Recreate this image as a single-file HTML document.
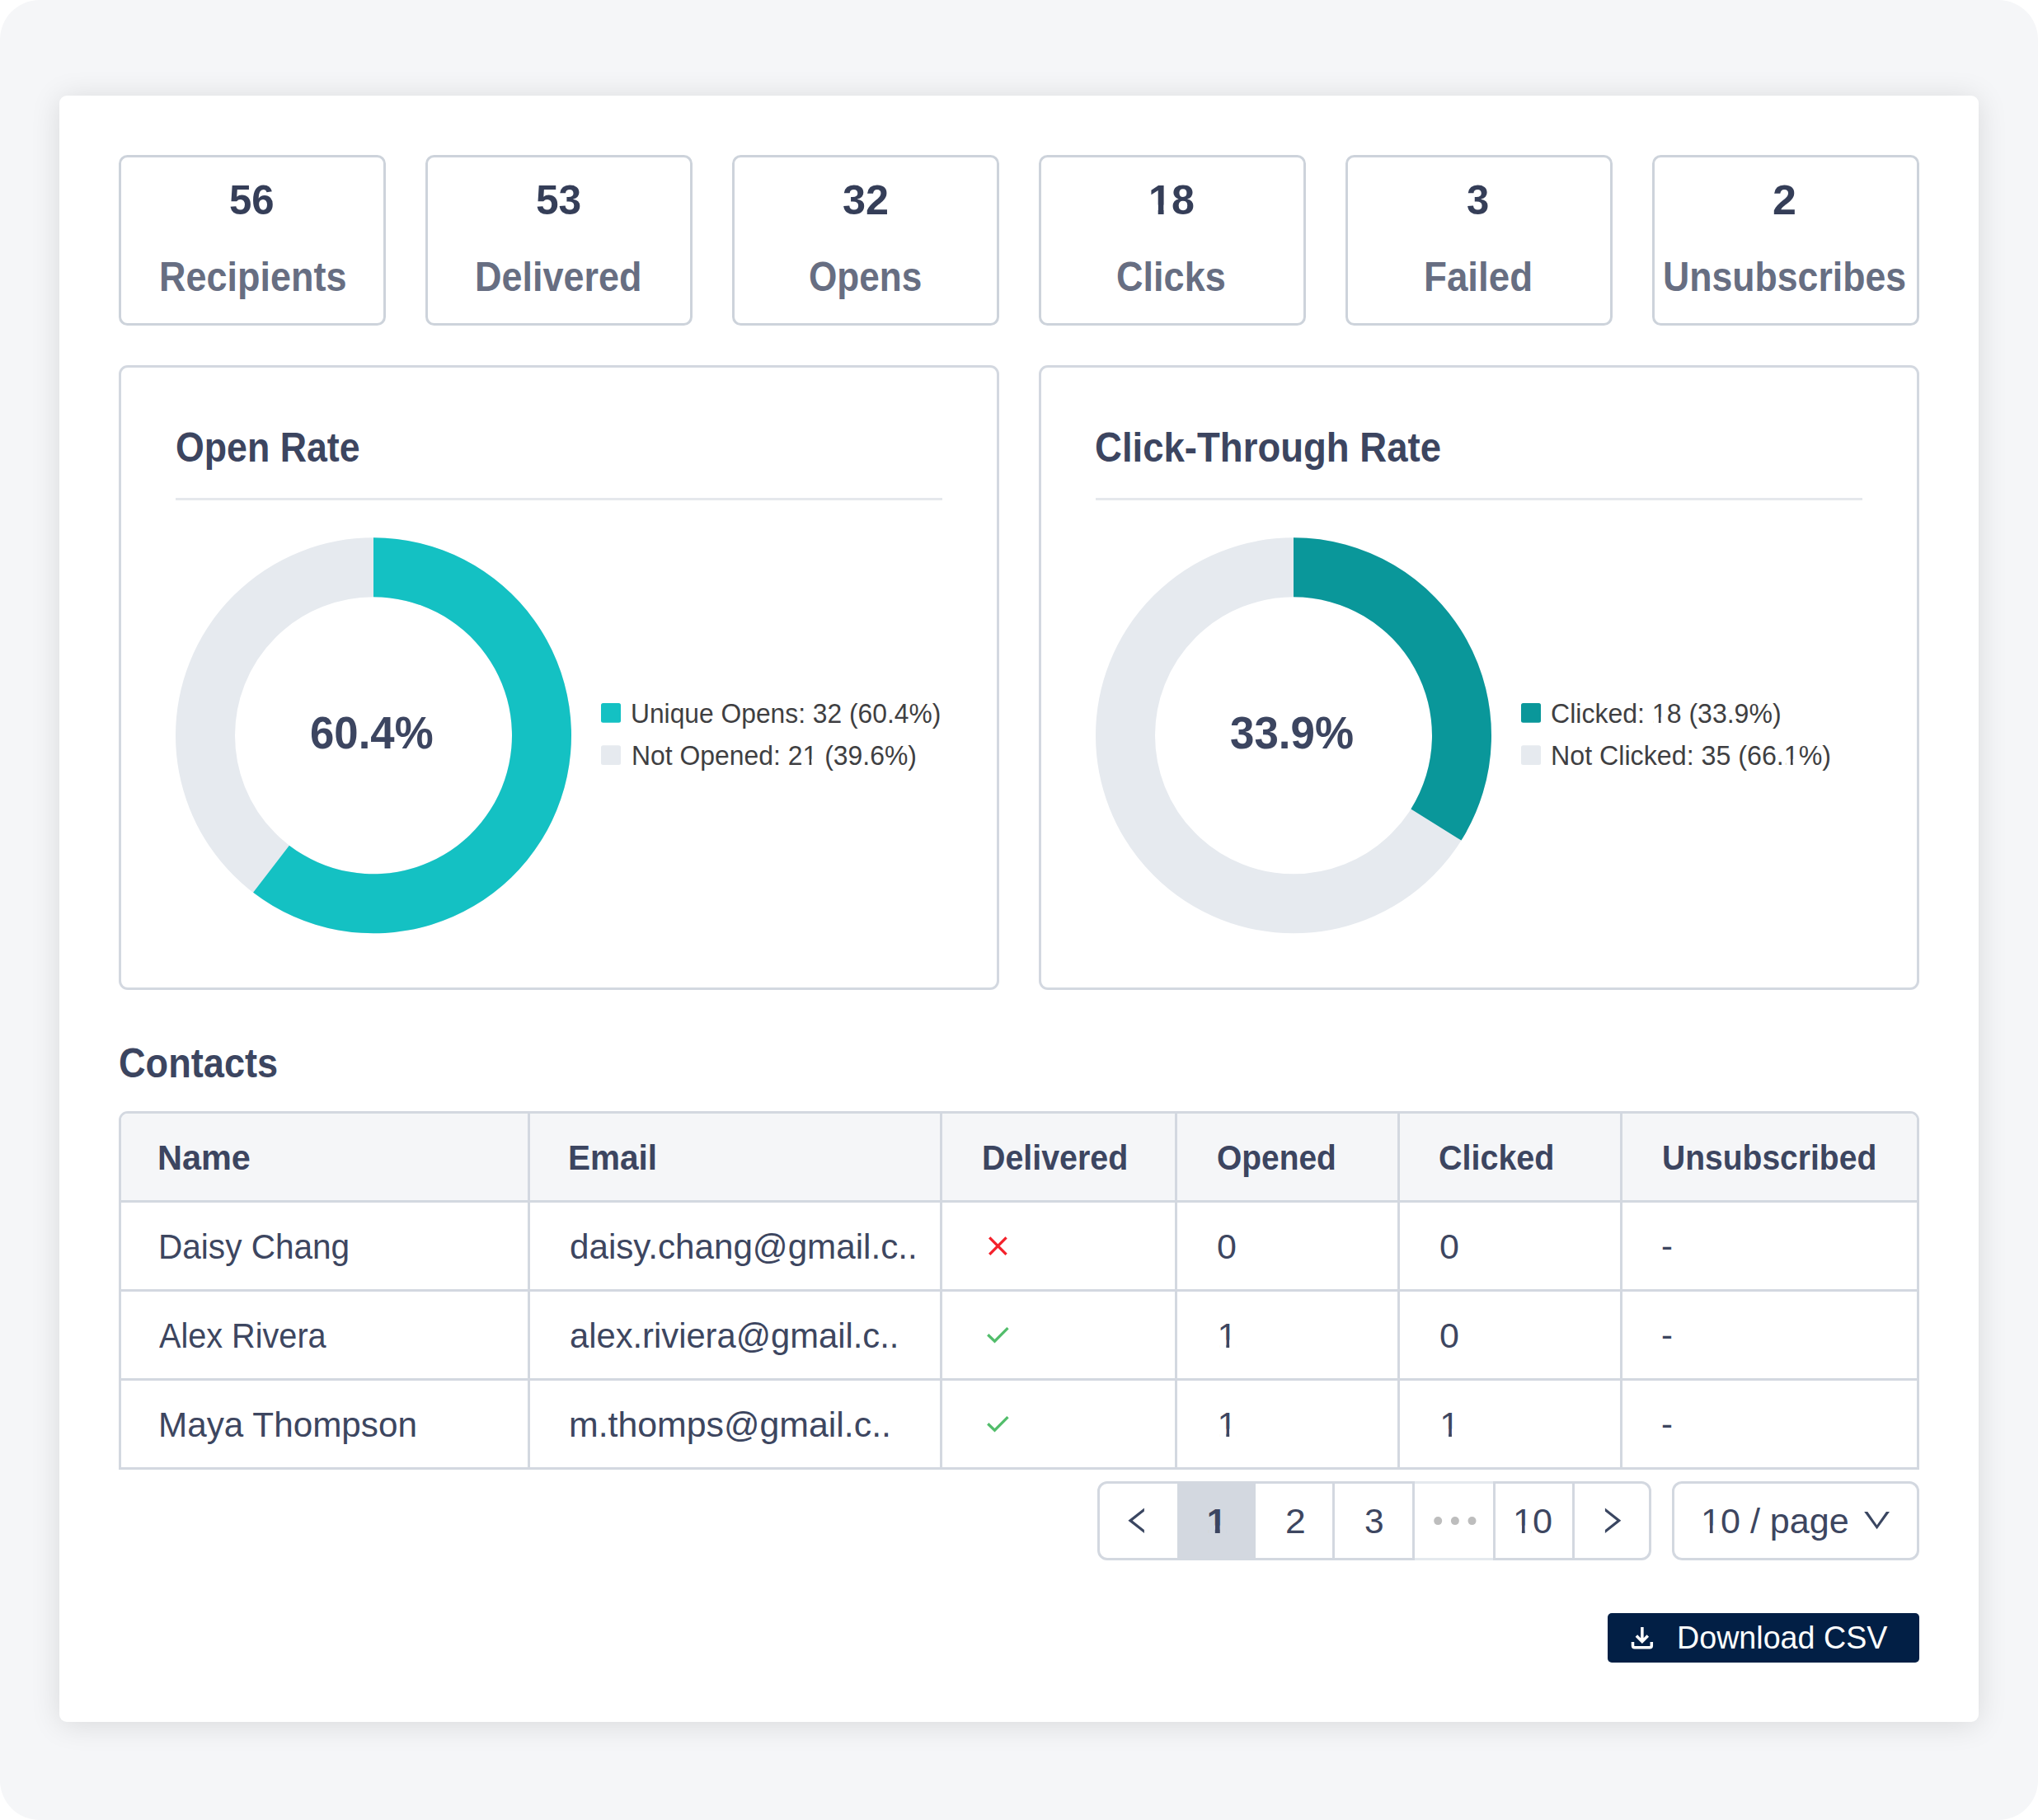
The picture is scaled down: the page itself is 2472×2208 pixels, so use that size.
<!DOCTYPE html><html lang=en><head><meta charset=utf-8><title>Campaign report</title><style>
html,body{margin:0;padding:0;background:#fff}
body{width:2472px;height:2208px;position:relative;overflow:hidden;font-family:"Liberation Sans",sans-serif}
#bg{position:absolute;left:0;top:0;width:2472px;height:2208px;background:#f5f6f8;border-radius:48px}
#card{position:absolute;left:72px;top:116px;width:2328px;height:1973px;background:#fff;border-radius:9px;box-shadow:0 3px 36px rgba(0,0,0,.12)}
.b{position:absolute;box-sizing:border-box;border:3px solid #d3d8e0;border-radius:12px;background:#fff}
.stat .b{top:187.5px;width:324px;height:207.3px;border-color:#cdd3db;border-radius:10.5px}
.chart .b{top:443px;width:1068px;height:758px;border-radius:11px}
.t{position:absolute;margin:0;padding:0;white-space:pre;line-height:1;transform-origin:0 0;display:block;font-style:normal}
.f{position:absolute}
.hl{position:absolute;height:3px;background:#d3d8e0}
.vl{position:absolute;width:3px;background:#d3d8e0}
.chart .hl{top:604.2px;width:930px;background:#e5e8ec}
.grid .vl{top:1351px;height:432px}
.pager .vl{top:1797.1px;height:95.7px}
svg{position:absolute;left:0;top:0;pointer-events:none}
</style></head><body>
<div id=bg></div><main id=card></main>
<section class=stats>
<div class=stat><div class=b style='left:144px'></div><strong class=t style="left:278.04px;top:217.88px;font-size:49.4px;font-weight:700;color:#353e58;transform:scaleX(0.9927)">56</strong><span class=t style="left:192.57px;top:310.68px;font-size:49.4px;font-weight:700;color:#676e82;transform:scaleX(0.9106)">Recipients</span></div>
<div class=stat><div class=b style='left:516px'></div><strong class=t style="left:650.42px;top:217.88px;font-size:49.4px;font-weight:700;color:#353e58;transform:scaleX(1.0045)">53</strong><span class=t style="left:575.67px;top:310.68px;font-size:49.4px;font-weight:700;color:#676e82;transform:scaleX(0.9106)">Delivered</span></div>
<div class=stat><div class=b style='left:888px'></div><strong class=t style="left:1021.68px;top:217.88px;font-size:49.4px;font-weight:700;color:#353e58;transform:scaleX(1.0192)">32</strong><span class=t style="left:980.91px;top:310.68px;font-size:49.4px;font-weight:700;color:#676e82;transform:scaleX(0.8933)">Opens</span></div>
<div class=stat><div class=b style='left:1260px'></div><strong class=t style="left:1392.55px;top:217.88px;font-size:49.4px;font-weight:700;color:#353e58;transform:scaleX(1.0157)">18</strong><span class=t style="left:1354.18px;top:310.68px;font-size:49.4px;font-weight:700;color:#676e82;transform:scaleX(0.9124)">Clicks</span></div>
<div class=stat><div class=b style='left:1632px'></div><strong class=t style="left:1779.01px;top:217.88px;font-size:49.4px;font-weight:700;color:#353e58;transform:scaleX(0.9920)">3</strong><span class=t style="left:1727.02px;top:310.68px;font-size:49.4px;font-weight:700;color:#676e82;transform:scaleX(0.9255)">Failed</span></div>
<div class=stat><div class=b style='left:2004px'></div><strong class=t style="left:2150.09px;top:217.88px;font-size:49.4px;font-weight:700;color:#353e58;transform:scaleX(1.0525)">2</strong><span class=t style="left:2016.97px;top:310.68px;font-size:49.4px;font-weight:700;color:#676e82;transform:scaleX(0.9033)">Unsubscribes</span></div>
</section>
<section class=charts>
<article class=chart><div class=b style='left:144px'></div><h3 class=t style="left:213.39px;top:517.98px;font-size:49.4px;font-weight:700;color:#3c4560;transform:scaleX(0.9049)">Open Rate</h3><div class=hl style='left:213px'></div>
<svg width=2472 height=2208 viewBox='0 0 2472 2208'><circle cx=453 cy=892.3 r=204.0 fill=none stroke=#e6eaef stroke-width=72 /><path d="M453,652.3 A240,240 0 1 1 307.10,1082.86 L350.87,1025.69 A168,168 0 1 0 453,724.3 Z" fill=#14c1c3 /><rect x=729 y=853 width=24 height=23.8 rx=2.5 fill=#14c1c3 /><rect x=729 y=904.2 width=24 height=23.8 rx=2.5 fill=#e6eaef /></svg>
<strong class=t style="left:376.00px;top:861.62px;font-size:55.5px;font-weight:700;color:#3c4560;transform:scaleX(0.9506)">60.4%</strong><div class=legend><span class=t style="left:764.95px;top:848.80px;font-size:33.9px;font-weight:400;color:#3f3f42;transform:scaleX(0.9376)">Unique Opens: 32 (60.4%)</span><span class=t style="left:765.78px;top:899.80px;font-size:33.9px;font-weight:400;color:#3f3f42;transform:scaleX(0.9418)">Not Opened: 21 (39.6%)</span></div></article>
<article class=chart><div class=b style='left:1260px'></div><h3 class=t style="left:1328.36px;top:517.98px;font-size:49.4px;font-weight:700;color:#3c4560;transform:scaleX(0.9221)">Click-Through Rate</h3><div class=hl style='left:1329px'></div>
<svg width=2472 height=2208 viewBox='0 0 2472 2208'><circle cx=1569 cy=892.3 r=204.0 fill=none stroke=#e6eaef stroke-width=72 /><path d="M1569,652.3 A240,240 0 0 1 1772.44,1019.62 L1711.41,981.43 A168,168 0 0 0 1569,724.3 Z" fill=#0a979a /><rect x=1845 y=853 width=24 height=23.8 rx=2.5 fill=#0a979a /><rect x=1845 y=904.2 width=24 height=23.8 rx=2.5 fill=#e6eaef /></svg>
<strong class=t style="left:1491.56px;top:861.62px;font-size:55.5px;font-weight:700;color:#3c4560;transform:scaleX(0.9528)">33.9%</strong><div class=legend><span class=t style="left:1880.95px;top:848.80px;font-size:33.9px;font-weight:400;color:#3f3f42;transform:scaleX(0.9454)">Clicked: 18 (33.9%)</span><span class=t style="left:1881.46px;top:899.80px;font-size:33.9px;font-weight:400;color:#3f3f42;transform:scaleX(0.9501)">Not Clicked: 35 (66.1%)</span></div></article>
</section>
<section class=contacts><h2 class=t style="left:143.67px;top:1264.98px;font-size:49.4px;font-weight:700;color:#3c4560;transform:scaleX(0.9139)">Contacts</h2>
<div class=grid role=table>
<div class=b style='left:144px;top:1348.3px;width:2184px;height:435px;border-radius:11px 11px 0 0;overflow:hidden'><div class=f style='left:0;top:0;width:2184px;height:106px;background:#f5f6f8'></div></div>
<div class=hl style='left:147px;top:1456.3px;width:2178px'></div><div class=hl style='left:147px;top:1564.3px;width:2178px'></div><div class=hl style='left:147px;top:1672.3px;width:2178px'></div>
<div class=vl style='left:640.3px'></div><div class=vl style='left:1140px'></div><div class=vl style='left:1424.7px'></div><div class=vl style='left:1694.9px'></div><div class=vl style='left:1964.9px'></div>
<div role=row><span class=t role=columnheader style="left:190.73px;top:1383.13px;font-size:43.2px;font-weight:700;color:#3c4560;transform:scaleX(0.9600)">Name</span><span class=t role=columnheader style="left:689.49px;top:1383.13px;font-size:43.2px;font-weight:700;color:#3c4560;transform:scaleX(0.9378)">Email</span><span class=t role=columnheader style="left:1190.67px;top:1383.03px;font-size:43.2px;font-weight:700;color:#3c4560;transform:scaleX(0.9115)">Delivered</span><span class=t role=columnheader style="left:1476.09px;top:1383.03px;font-size:43.2px;font-weight:700;color:#3c4560;transform:scaleX(0.9007)">Opened</span><span class=t role=columnheader style="left:1744.97px;top:1383.03px;font-size:43.2px;font-weight:700;color:#3c4560;transform:scaleX(0.9141)">Clicked</span><span class=t role=columnheader style="left:2015.85px;top:1383.03px;font-size:43.2px;font-weight:700;color:#3c4560;transform:scaleX(0.9037)">Unsubscribed</span></div>
<div role=row><span class=t role=cell style="left:191.96px;top:1490.73px;font-size:43.2px;font-weight:400;color:#3d4660;transform:scaleX(0.9390)">Daisy Chang</span><span class=t role=cell style="left:691.02px;top:1490.73px;font-size:43.2px;font-weight:400;color:#3d4660;transform:scaleX(0.9762)">daisy.chang@gmail.c..</span><svg width=2472 height=2208 viewBox='0 0 2472 2208'><path d='M1200.2 1501.3 L1220.6 1521.8 M1220.6 1501.3 L1200.2 1521.8' stroke='#f4212b' stroke-width=3.3 fill=none /></svg><span class=t role=cell style="left:1475.80px;top:1490.73px;font-size:43.2px;font-weight:400;color:#3d4660;transform:scaleX(0.9953)">0</span><span class=t role=cell style="left:1745.60px;top:1490.73px;font-size:43.2px;font-weight:400;color:#3d4660;transform:scaleX(0.9953)">0</span><span class=t role=cell style="left:2014.74px;top:1489.73px;font-size:43.2px;font-weight:400;color:#3d4660;transform:scaleX(0.9684)">-</span></div>
<div role=row><span class=t role=cell style="left:193.20px;top:1598.73px;font-size:43.2px;font-weight:400;color:#3d4660;transform:scaleX(0.9176)">Alex Rivera</span><span class=t role=cell style="left:690.98px;top:1598.73px;font-size:43.2px;font-weight:400;color:#3d4660;transform:scaleX(0.9659)">alex.riviera@gmail.c..</span><svg width=2472 height=2208 viewBox='0 0 2472 2208'><path d='M1198.25 1619.3 L1206.5 1627.1 L1222.5 1611.2' stroke='#52bd6b' stroke-width=3.3 fill=none /></svg><span class=t role=cell style="left:1476.50px;top:1598.73px;font-size:43.2px;font-weight:400;color:#3d4660;transform:scaleX(1.0000)">1</span><span class=t role=cell style="left:1745.60px;top:1598.73px;font-size:43.2px;font-weight:400;color:#3d4660;transform:scaleX(0.9953)">0</span><span class=t role=cell style="left:2014.74px;top:1597.73px;font-size:43.2px;font-weight:400;color:#3d4660;transform:scaleX(0.9684)">-</span></div>
<div role=row><span class=t role=cell style="left:191.82px;top:1706.73px;font-size:43.2px;font-weight:400;color:#3d4660;transform:scaleX(0.9785)">Maya Thompson</span><span class=t role=cell style="left:689.91px;top:1706.73px;font-size:43.2px;font-weight:400;color:#3d4660;transform:scaleX(0.9917)">m.thomps@gmail.c..</span><svg width=2472 height=2208 viewBox='0 0 2472 2208'><path d='M1198.25 1727.3 L1206.5 1735.1 L1222.5 1719.2' stroke='#52bd6b' stroke-width=3.3 fill=none /></svg><span class=t role=cell style="left:1476.50px;top:1706.73px;font-size:43.2px;font-weight:400;color:#3d4660;transform:scaleX(1.0000)">1</span><span class=t role=cell style="left:1746.30px;top:1706.73px;font-size:43.2px;font-weight:400;color:#3d4660;transform:scaleX(1.0000)">1</span><span class=t role=cell style="left:2014.74px;top:1705.73px;font-size:43.2px;font-weight:400;color:#3d4660;transform:scaleX(0.9684)">-</span></div>
</div>
<nav class=pager>
<div class=b style='left:1331.2px;top:1797.1px;width:672px;height:95.7px'></div>
<div class=f style='left:1427.7px;top:1797.1px;width:95.3px;height:95.7px;background:#d3d8e0'></div><div class=f style='left:1426.9px;top:1800.1px;width:0.8px;height:89.7px;background:#fff'></div>
<div class=f style='left:1715.3px;top:1797.1px;width:96px;height:95.7px;background:#e5e9ee'></div><div class=f style='left:1715.3px;top:1800.1px;width:96px;height:89.7px;background:#fff'></div>
<div class=vl style='left:1616.3px'></div><div class=vl style='left:1712.5px'></div><div class=vl style='left:1811.3px'></div><div class=vl style='left:1907.2px'></div>
<svg width=2472 height=2208 viewBox='0 0 2472 2208'><path d='M1387.9 1829.5 L1368.4 1844.7 L1387.9 1860 V1855.9 L1373.7 1844.7 L1387.9 1833.6 Z' fill='#3a4661' /><path d='M1946.9 1829.5 L1966.3 1844.7 L1946.9 1860 V1855.9 L1961.1 1844.7 L1946.9 1833.6 Z' fill='#3a4661' /><circle cx=1744.2 cy=1845.1 r=5 fill='#bdbdbd' /><circle cx=1764.9 cy=1845.1 r=5 fill='#bdbdbd' /><circle cx=1785.5 cy=1845.1 r=5 fill='#bdbdbd' /></svg><b class=t style="left:1463.86px;top:1823.83px;font-size:43.2px;font-weight:700;color:#3c4560;transform:scaleX(1.0000)">1</b><span class=t style="left:1559.24px;top:1823.83px;font-size:43.2px;font-weight:400;color:#3d4660;transform:scaleX(1.0300)">2</span><span class=t style="left:1655.24px;top:1823.83px;font-size:43.2px;font-weight:400;color:#3d4660;transform:scaleX(0.9811)">3</span><span class=t style="left:1834.59px;top:1823.83px;font-size:43.2px;font-weight:400;color:#3d4660;transform:scaleX(1.0023)">10</span>
<div class=pagesize><div class=b style='left:2027.5px;top:1797.1px;width:300.5px;height:95.7px'></div><span class=t style="left:2062.51px;top:1823.73px;font-size:43.2px;font-weight:400;color:#3d4660;transform:scaleX(0.9978)">10 / page</span><svg width=2472 height=2208 viewBox='0 0 2472 2208'><path d='M2261.2 1834.1 H2265.3 L2276.6 1850.3 L2287.9 1834.1 H2292 L2276.6 1855.2 Z' fill='#3a4661' /></svg></div>
</nav>
<div class=download role=button><div class=f style='left:1950px;top:1957.2px;width:378px;height:59.8px;background:#021f45;border-radius:5px'></div><svg width=2472 height=2208 viewBox='0 0 2472 2208'><g stroke='#fff' stroke-width=3.5 fill=none><path d='M1991.9 1974.1 V1992 M1984.9 1984.5 L1991.85 1991.5 L1998.8 1984.5' /><path d='M1980.5 1992 V1996.6 a2.2 2.2 0 0 0 2.2 2.2 H2001.1 a2.2 2.2 0 0 0 2.2 -2.2 V1992' /></g></svg><span class=t style="left:2033.65px;top:1967.08px;font-size:39.6px;font-weight:400;color:#ffffff;transform:scaleX(0.9515)">Download CSV</span></div>
</section>
<svg width=2472 height=2208 viewBox='0 0 2472 2208' style='pointer-events:none'><rect x=1395.06 y=248.51 width=9.64 height=12.60 fill='#fff' /><rect x=1411.59 y=248.51 width=8.56 height=12.60 fill='#fff' /><rect x=975.37 y=920.82 width=6.14 height=8.64 fill='#fff' /><rect x=984.35 y=920.82 width=6.03 height=8.64 fill='#fff' /><rect x=2005.77 y=869.82 width=6.02 height=8.64 fill='#fff' /><rect x=2014.64 y=869.82 width=6.19 height=8.64 fill='#fff' /><rect x=2166.24 y=920.82 width=5.59 height=8.64 fill='#fff' /><rect x=2174.70 y=920.82 width=6.68 height=8.64 fill='#fff' /><rect x=1479.09 y=1625.52 width=8.25 height=11.02 fill='#fff' /><rect x=1491.18 y=1625.52 width=8.21 height=11.02 fill='#fff' /><rect x=1479.09 y=1733.52 width=8.25 height=11.02 fill='#fff' /><rect x=1491.18 y=1733.52 width=8.21 height=11.02 fill='#fff' /><rect x=1748.89 y=1733.52 width=8.21 height=11.02 fill='#fff' /><rect x=1760.93 y=1733.52 width=8.27 height=11.02 fill='#fff' /><rect x=1466.02 y=1850.62 width=7.80 height=11.02 fill='#d3d8e0' /><rect x=1479.76 y=1850.62 width=7.86 height=11.02 fill='#d3d8e0' /><rect x=1837.19 y=1850.62 width=8.69 height=11.02 fill='#fff' /><rect x=1849.71 y=1850.62 width=7.83 height=11.02 fill='#fff' /><rect x=2065.10 y=1850.52 width=8.73 height=11.02 fill='#fff' /><rect x=2077.65 y=1850.52 width=7.70 height=11.02 fill='#fff' /></svg>
</body></html>
